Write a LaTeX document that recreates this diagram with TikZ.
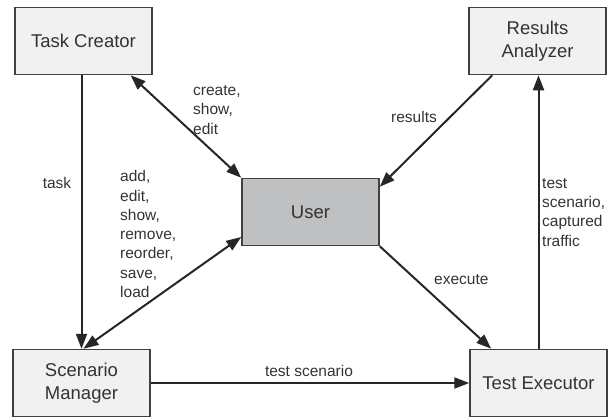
\documentclass[tikz,border=0pt]{standalone}
\usepackage{fontspec}
\setmainfont{Liberation Sans}
\usetikzlibrary{arrows.meta,calc}
\definecolor{boxfill}{HTML}{F0F1F0}
\definecolor{userfill}{HTML}{BFC0C2}
\definecolor{boxline}{HTML}{404040}
\definecolor{txt}{HTML}{333333}
\begin{document}
\begin{tikzpicture}[x=1pt,y=-1pt,
  box/.style={draw=boxline,line width=1.5pt,fill=boxfill,minimum width=137pt,minimum height=67pt,
    align=center,font=\fontsize{18.5pt}{23pt}\selectfont,text=txt,inner sep=0pt},
  lbl/.style={font=\fontsize{15.5pt}{19.3pt}\selectfont,text=txt,inner sep=0pt,align=left},
  arr/.style={draw=black!85,line width=2pt,-{Triangle[length=15pt,width=11pt]}},
  arrboth/.style={draw=black!85,line width=2pt,{Triangle[length=15pt,width=11pt]}-{Triangle[length=15pt,width=11pt]}},
  plain/.style={draw=black!85,line width=2pt}]
\useasboundingbox (0,0) rectangle (613,418);
\node[box] (TC) at (83.5,41) {Task Creator};
\node[box] (RA) at (537.5,41) {Results\\Analyzer};
\node[box] (SM) at (81.5,383) {Scenario\\Manager};
\node[box] (TE) at (538.5,383) {Test Executor};
\node[box,fill=userfill] (U) at (310.5,212) {User};
% connectors
\draw[arr] (TC.south -| SM.north) -- (SM.north);
\draw[arrboth] ($(TC.south west)!0.84!(TC.south east)$) -- (U.north west);
\draw[arrboth] ($(SM.north)+(2,0)$) -- ($(U.west)+(0,25)$);
\draw[arr] ($(RA.south west)+(24,0)$) -- ($(U.north east)+(0,9)$);
\draw[arr] (U.south east) -- ($(TE.north west)+(22,0)$);
\draw[arr] (TE.north) -- (TE.north |- RA.south);
\draw[arr] (SM.east) -- (TE.west);
% labels (base anchor = baseline of last line)
\node[lbl,anchor=base west] (l1) at (193,134) {create,\\show,\\edit};
\node[lbl,anchor=base west] (l2) at (120,297.5) {add,\\edit,\\show,\\remove,\\reorder,\\save,\\load};
\node[lbl,anchor=base] (l3) at (57,188) {task};
\node[lbl,anchor=base west] (l4) at (391,122) {results};
\node[lbl,anchor=base west] (l5) at (434,284) {execute};
\node[lbl,anchor=base] (l6) at (309,376) {test scenario};
\node[lbl,anchor=base west] (l7) at (542,246) {test\\scenario,\\captured\\traffic};
\end{tikzpicture}
\end{document}
